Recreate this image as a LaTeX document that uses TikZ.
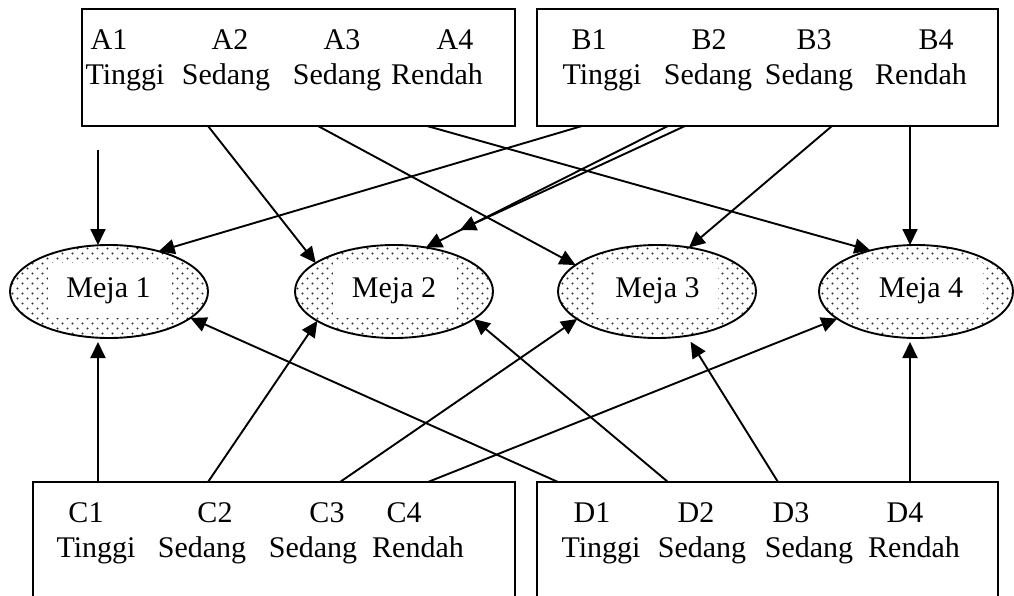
\documentclass[tikz,border=0pt]{standalone}
\usepackage{fontspec}
\setmainfont{Liberation Serif}
\usetikzlibrary{arrows.meta,patterns,shapes.geometric}

\pgfdeclarepatternformonly{mejadots}{\pgfpoint{-1pt}{-1pt}}{\pgfpoint{11pt}{11pt}}{\pgfpoint{10pt}{10pt}}{%
  \pgfpathcircle{\pgfpoint{2.5pt}{2.5pt}}{1.2pt}%
  \pgfpathcircle{\pgfpoint{7.5pt}{7.5pt}}{1.2pt}%
  \pgfusepath{fill}}

\begin{document}
\begin{tikzpicture}[x=1pt,y=-1pt,
  font=\fontsize{30}{36}\selectfont,
  box/.style={draw, line width=1.9pt, inner sep=0pt, outer sep=0pt},
  meja/.style={ellipse, draw, line width=1.9pt, pattern=mejadots, pattern color=black!80,
               minimum width=198pt, minimum height=93pt, inner sep=0pt, outer sep=0pt},
  hole/.style={fill=white, minimum width=124pt, minimum height=55pt, inner sep=0pt},
  lbl/.style={anchor=base, inner sep=0pt},
  arr/.style={line width=1.9pt, -{Triangle[length=16pt,width=15pt]}}]

\useasboundingbox (0,0) rectangle (1014,596);

% boxes
\node[box, minimum width=433pt, minimum height=117pt] (boxA) at (298.5,67.5) {};
\node[box, minimum width=461pt, minimum height=117pt] (boxB) at (767.5,67.5) {};
\node[box, minimum width=482pt, minimum height=118pt] (boxC) at (274,541) {};
\node[box, minimum width=461pt, minimum height=118pt] (boxD) at (767.5,541) {};

% box texts
\node[lbl] (a1) at (109,50) {A1};
\node[lbl] (a2) at (230,50) {A2};
\node[lbl] (a3) at (342,50) {A3};
\node[lbl] (a4) at (455,50) {A4};
\node[lbl] (at1) at (125,85) {Tinggi};
\node[lbl] (at2) at (226,85) {Sedang};
\node[lbl] (at3) at (337,85) {Sedang};
\node[lbl] (at4) at (437,85) {Rendah};

\node[lbl] (b1) at (589,50) {B1};
\node[lbl] (b2) at (709,50) {B2};
\node[lbl] (b3) at (814,50) {B3};
\node[lbl] (b4) at (936,50) {B4};
\node[lbl] (bt1) at (602,85) {Tinggi};
\node[lbl] (bt2) at (708,85) {Sedang};
\node[lbl] (bt3) at (809,85) {Sedang};
\node[lbl] (bt4) at (921,85) {Rendah};

\node[lbl] (c1) at (86,522) {C1};
\node[lbl] (c2) at (215,522) {C2};
\node[lbl] (c3) at (327,522) {C3};
\node[lbl] (c4) at (404,522) {C4};
\node[lbl] (ct1) at (96,557) {Tinggi};
\node[lbl] (ct2) at (202,557) {Sedang};
\node[lbl] (ct3) at (313,557) {Sedang};
\node[lbl] (ct4) at (418,557) {Rendah};

\node[lbl] (d1) at (592,522) {D1};
\node[lbl] (d2) at (696,522) {D2};
\node[lbl] (d3) at (791,522) {D3};
\node[lbl] (d4) at (905,522) {D4};
\node[lbl] (dt1) at (601,557) {Tinggi};
\node[lbl] (dt2) at (702,557) {Sedang};
\node[lbl] (dt3) at (809,557) {Sedang};
\node[lbl] (dt4) at (914,557) {Rendah};

% tables
\node[meja] (m1) at (109,291.5) {};
\node[meja] (m2) at (394,291.5) {};
\node[meja] (m3) at (657,291.5) {};
\node[meja, minimum width=194pt] (m4) at (916,291.5) {};
\node[hole] (h1) at (110,290.5) {};
\node[hole] (h2) at (395,290.5) {};
\node[hole] (h3) at (656,290.5) {};
\node[hole] (h4) at (921,290.5) {};
\node[lbl] (t1) at (108.5,297) {Meja 1};
\node[lbl] (t2) at (394,297) {Meja 2};
\node[lbl] (t3) at (657.5,297) {Meja 3};
\node[lbl] (t4) at (921,297) {Meja 4};

% free ends
\coordinate (a1s) at (98,150);
\coordinate (b2e) at (460,230);

% connectors from A
\draw[arr] (a1s) -- (98,0 |- m1.north);
\draw[arr] (208,0 |- boxA.south) -- (m2.160);
\draw[arr] (318,0 |- boxA.south) -- (m3.162);
\draw[arr] (427,0 |- boxA.south) -- (m4.138);
% connectors from B
\draw[arr] (582,0 |- boxB.south) -- (m1.39);
\draw[arr] (668,0 |- boxB.south) -- (m2.54);
\draw[arr] (685,0 |- boxB.south) -- (b2e);
\draw[arr] (832,0 |- boxB.south) -- (m3.54);
\draw[arr] (910,0 |- boxB.south) -- (910,0 |- m4.north);
% connectors from C
\draw[arr, shorten >=4pt] (98,0 |- boxC.north) -- (98,0 |- m1.south);
\draw[arr] (208,0 |- boxC.north) -- (m2.201);
\draw[arr] (340,0 |- boxC.north) -- (m3.199);
\draw[arr] (428,0 |- boxC.north) -- (m4.199);
% connectors from D
\draw[arr] (558,0 |- boxD.north) -- (m1.342);
\draw[arr] (668,0 |- boxD.north) -- (m2.341);
\draw[arr, shorten >=7pt] (778,0 |- boxD.north) -- (m3.304);
\draw[arr, shorten >=4pt] (910,0 |- boxD.north) -- (910,0 |- m4.south);
\end{tikzpicture}
\end{document}
